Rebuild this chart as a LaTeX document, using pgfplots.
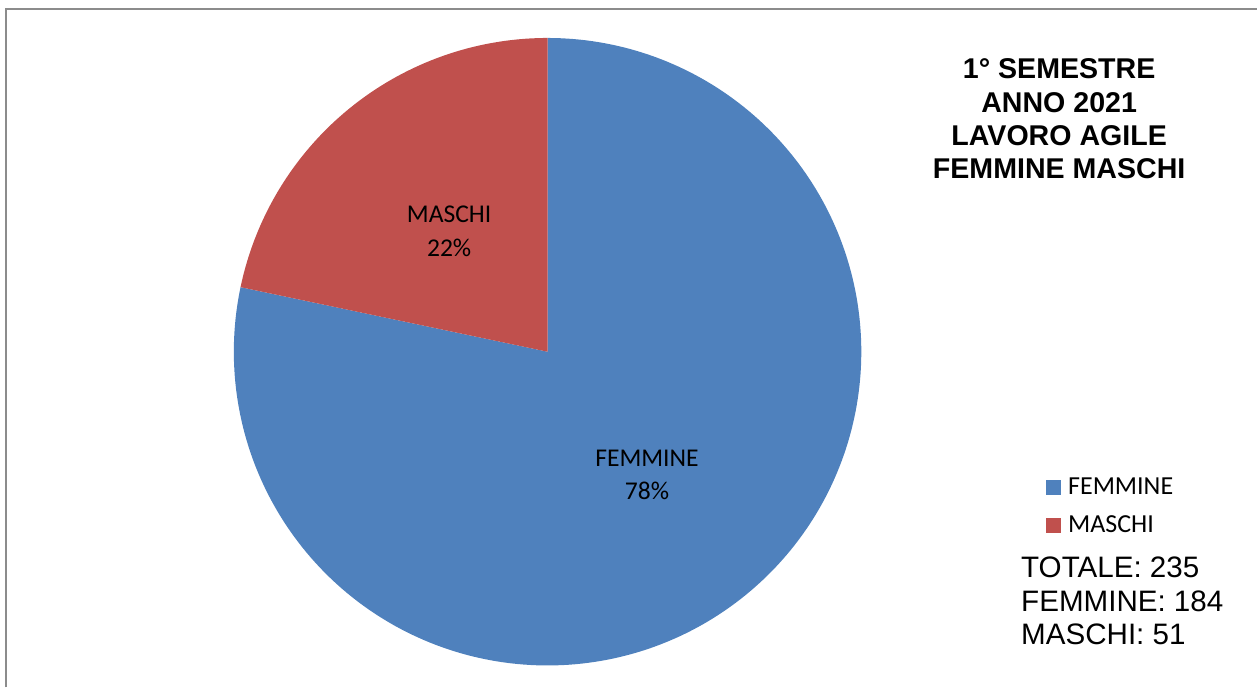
\documentclass[border=0pt]{standalone}
\usepackage{pgfplots}
\pgfplotsset{compat=1.18}
\usepackage{fontspec}
\setmainfont{Carlito}
\newfontfamily\arial{Liberation Sans}
\definecolor{fem}{HTML}{4F81BD}
\definecolor{mas}{HTML}{C0504D}
\definecolor{brd}{HTML}{8C8C8C}
\begin{document}
\begin{tikzpicture}
\def\F{184}\def\M{51}
\pgfmathsetmacro\T{\F+\M}
\pgfmathsetmacro\frac{\F/\T}
\pgfmathsetmacro\aend{90-360*\frac}
\begin{axis}[x=0.5bp,y=0.5bp,xmin=0,xmax=1258,ymin=0,ymax=688,
  hide axis,clip=false,
  legend style={at={(axis cs:1047,209.5)},anchor=north west,draw=none,fill=none,
    inner sep=0pt,outer sep=0pt,row sep=8.75bp,
    font=\fontsize{13bp}{15bp}\selectfont,
    nodes={inner sep=0pt,outer sep=0pt}},
  legend cell align=left,
  /tikz/every odd column/.style={column sep=3.5bp},
  legend image code/.code={\fill[#1] (0bp,-3.75bp) rectangle (7.5bp,3.75bp);}]
\path (axis cs:0,0) rectangle (axis cs:1258,688);
\addplot[draw=none,fill=fem,domain=\aend:90,samples=241]
  ({548+314*cos(x)},{336+314*sin(x)}) -- (axis cs:548,336) -- cycle;
\addlegendentry{FEMMINE}
\addplot[draw=none,fill=mas,domain=-270:\aend,samples=80]
  ({548+314*cos(x)},{336+314*sin(x)}) -- (axis cs:548,336) -- cycle;
\addlegendentry{MASCHI}
\draw[brd,line width=1bp] (axis cs:6,0) -- (axis cs:6,679) -- (axis cs:1258,679);
\begin{scope}[every node/.style={inner sep=0pt,outer sep=0pt,anchor=base}]
\node[font=\fontsize{12.8bp}{15bp}\selectfont] at (axis cs:449.5,465) {MASCHI};
\node[font=\fontsize{12.8bp}{15bp}\selectfont] at (axis cs:449.5,431) {22\%};
\node[font=\fontsize{12.8bp}{15bp}\selectfont] at (axis cs:647.5,221) {FEMMINE};
\node[font=\fontsize{12.8bp}{15bp}\selectfont] at (axis cs:647.5,188) {78\%};
\node[font=\arial\bfseries\fontsize{14.3bp}{16bp}\selectfont] at (axis cs:1060,609) {1° SEMESTRE};
\node[font=\arial\bfseries\fontsize{14.3bp}{16bp}\selectfont] at (axis cs:1060,575) {ANNO 2021};
\node[font=\arial\bfseries\fontsize{14.3bp}{16bp}\selectfont] at (axis cs:1060,542) {LAVORO AGILE};
\node[font=\arial\bfseries\fontsize{14.3bp}{16bp}\selectfont] at (axis cs:1060,509) {FEMMINE MASCHI};
\node[anchor=base west,font=\arial\fontsize{14.8bp}{17bp}\selectfont] at (axis cs:1022,110) {TOTALE: 235};
\node[anchor=base west,font=\arial\fontsize{14.8bp}{17bp}\selectfont] at (axis cs:1022,76) {FEMMINE: 184};
\node[anchor=base west,font=\arial\fontsize{14.8bp}{17bp}\selectfont] at (axis cs:1022,43) {MASCHI: 51};
\end{scope}
\end{axis}
\end{tikzpicture}
\end{document}
